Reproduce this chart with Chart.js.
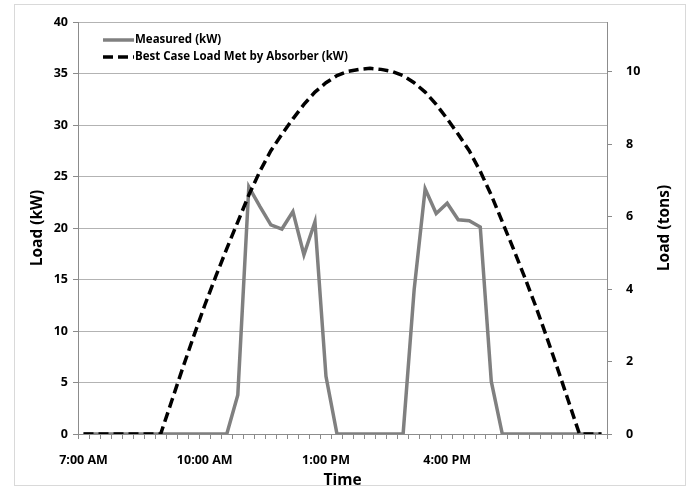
<!DOCTYPE html>
<html>
<head>
<meta charset="utf-8">
<script src="https://cdn.jsdelivr.net/npm/chart.js@4.4.0/dist/chart.umd.min.js"></script>
<style>
  html, body { margin: 0; padding: 0; background: #fff; }
  #wrap { width: 690px; height: 488px; position: relative; }
</style>
</head>
<body>
<div id="wrap"><canvas id="chart-load"></canvas></div>
<script>
// Time axis labels, one label every 11 samples
var tickLabels = ['7:00 AM', '10:00 AM', '1:00 PM', '4:00 PM'];
var labelStep = 11;

// Measured (kW)
var measured = [0, 0, 0, 0, 0, 0, 0, 0, 0, 0,
  0, 0, 0, 0, 3.8, 24.0, 22.1, 20.3, 19.9, 21.6,
  17.4, 20.6, 5.6, 0, 0, 0, 0, 0, 0, 0,
  14.0, 23.8, 21.4, 22.4, 20.8, 20.7, 20.1, 5.1, 0, 0,
  0, 0, 0, 0, 0, 0, 0, 0];

// Best Case Load Met by Absorber (kW)
var bestCase = [0, 0, 0, 0, 0, 0, 0, 0, 3.2, 6.4,
  9.5, 12.5, 15.3, 18.0, 20.6, 23.2, 25.5, 27.5, 29.1, 30.6,
  32.0, 33.2, 34.1, 34.8, 35.2, 35.4, 35.5, 35.4, 35.2, 34.8,
  34.1, 33.2, 32.0, 30.6, 29.1, 27.5, 25.5, 23.2, 20.6, 18.0,
  15.3, 12.5, 9.5, 6.4, 3.2, 0, 0, 0];

var kwPerTon = 3.517;

var categories = measured.map(function (v, i) {
  return i % labelStep === 0 && tickLabels[i / labelStep] ? tickLabels[i / labelStep] : '';
});

var fam = '"Open Sans", Lato, sans-serif';
Chart.defaults.font.family = fam;
Chart.defaults.color = '#000';

// white page + light frame round the chart
var framePlugin = {
  id: 'frame',
  beforeDraw: function (chart) {
    var c = chart.ctx;
    c.save();
    c.fillStyle = '#fff';
    c.fillRect(0, 0, chart.width, chart.height);
    c.strokeStyle = '#d9d9d9';
    c.lineWidth = 1;
    c.strokeRect(14.5, 4.5, 671, 481);
    c.restore();
  },
  afterDraw: function (chart) {
    var c = chart.ctx;
    var area = chart.chartArea;
    c.save();
    // right axis title, reads bottom to top like the left one
    c.translate(665, (area.top + area.bottom) / 2);
    c.rotate(-Math.PI / 2);
    c.font = 'bold 15.5px ' + fam;
    c.fillStyle = '#000';
    c.textAlign = 'center';
    c.textBaseline = 'middle';
    c.fillText('Load (tons)', 0, 0);
    c.restore();

    // legend inside the plot, top left
    c.save();
    c.font = 'bold 11.5px ' + fam;
    c.textBaseline = 'middle';
    chart.data.datasets.forEach(function (ds, i) {
      var y = 40 + i * 17;
      c.strokeStyle = ds.borderColor;
      c.lineWidth = ds.borderWidth;
      c.setLineDash(ds.borderDash || []);
      c.beginPath();
      c.moveTo(103, y);
      c.lineTo(134, y);
      c.stroke();
      c.setLineDash([]);
      c.fillStyle = '#000';
      c.fillText(ds.label, 135, y);
    });
    c.restore();
  }
};

var ctx = document.getElementById('chart-load').getContext('2d');
var chart = new Chart(ctx, {
  type: 'line',
  data: {
    labels: categories,
    datasets: [{
      label: 'Measured (kW)',
      data: measured,
      borderColor: '#808080',
      borderWidth: 3.5,
      pointRadius: 0,
      order: 1,
      yAxisID: 'y'
    }, {
      label: 'Best Case Load Met by Absorber (kW)',
      data: bestCase,
      borderColor: '#000',
      borderWidth: 3.5,
      borderDash: [10, 5],
      pointRadius: 0,
      order: 0,
      yAxisID: 'y'
    }]
  },
  options: {
    responsive: true,
    maintainAspectRatio: false,
    animation: false,
    layout: { padding: { top: 22, left: 0, right: 0, bottom: 0 } },
    plugins: {
      legend: { display: false },
      tooltip: { enabled: false }
    },
    scales: {
      x: {
        offset: true,
        grid: { offset: true, drawOnChartArea: false, drawTicks: true, tickLength: 5, color: '#8a8a8a', lineWidth: 1 },
        border: { color: '#8c8c8c' },
        ticks: { autoSkip: false, maxRotation: 0, padding: 14, font: { family: fam, size: 12.5, weight: 'bold' } },
        title: { display: true, text: 'Time', font: { family: fam, size: 15.5, weight: 'bold', lineHeight: 1 }, padding: 0 },
        afterFit: function (s) { s.height = 54; }
      },
      y: {
        position: 'left',
        min: 0,
        max: 40,
        ticks: { stepSize: 5, padding: 5, font: { family: fam, size: 12.5, weight: 'bold' } },
        grid: { color: '#b3b3b3', tickColor: '#8a8a8a', tickLength: 5 },
        border: { color: '#8c8c8c' },
        title: { display: true, text: 'Load (kW)', font: { family: fam, size: 15.5, weight: 'bold' }, padding: { top: 28, bottom: 0 } },
        afterFit: function (s) { s.width = 78; }
      },
      y2: {
        position: 'right',
        min: 0,
        max: 40 / kwPerTon,
        ticks: { stepSize: 2, includeBounds: false, padding: 14, font: { family: fam, size: 12.5, weight: 'bold' } },
        grid: { drawOnChartArea: false, tickLength: 5, color: '#8a8a8a' },
        border: { color: '#8c8c8c' },
        afterFit: function (s) { s.width = 83; }
      }
    }
  },
  plugins: [framePlugin]
});
</script>
</body>
</html>
